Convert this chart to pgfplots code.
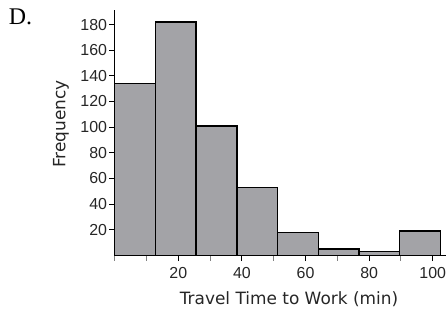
\documentclass[border=0pt]{standalone}
\usepackage{pgfplots}
\pgfplotsset{compat=1.18}
\usepackage{fontspec}
\setmainfont{Liberation Sans}
\newfontfamily\labelfont{DejaVu Sans}
\newfontfamily\seriffont{Liberation Serif}
\definecolor{barfill}{RGB}{163,163,167}
\begin{document}
\begin{tikzpicture}[x=1bp,y=1bp]
\path[use as bounding box] (0,0) rectangle (447,313);
\node[font=\seriffont\fontsize{24}{24}\selectfont, anchor=center] at (20.5,296) {D.};
\begin{axis}[
  at={(114.7bp,57.5bp)}, anchor=south west,
  scale only axis, width=331.4bp, height=245.1bp,
  xmin=0, xmax=104.2, ymin=0, ymax=191,
  axis x line*=bottom, axis y line*=left,
  axis line style={-, line width=1.1bp, black},
  clip=false,
  ytick={20,40,...,180},
  xtick={20,40,...,100},
  minor xtick={0,10,30,50,70,90},
  tick align=outside,
  major tick length=5.5bp, minor tick length=5bp,
  tick style={black, line width=0.9bp},
  minor tick style={gray, line width=0.9bp},
  ticklabel style={font=\fontsize{16}{16}\selectfont, text=black!85},
  yticklabel style={inner sep=2bp},
  xticklabel style={yshift=-2.5bp},
  /pgf/number format/assume math mode=true,
  xlabel={Travel Time to Work (min)},
  xlabel style={font=\labelfont\fontsize{17}{17}\selectfont, text=black!85, at={([yshift=-44bp]axis cs:54.8,0)}, anchor=center},
  ylabel={Frequency},
  ylabel style={font=\labelfont\fontsize{17}{17}\selectfont, text=black!85, at={([xshift=-53.7bp]axis cs:0,102.5)}, anchor=center},
]
\addplot[ybar interval, fill=barfill, draw=black, line width=1.5bp] coordinates {
(0,134) (12.8,182) (25.6,101) (38.4,53) (51.2,18) (64,5) (76.8,3) (89.6,19) (102.4,0)};
\end{axis}
\end{tikzpicture}
\end{document}
